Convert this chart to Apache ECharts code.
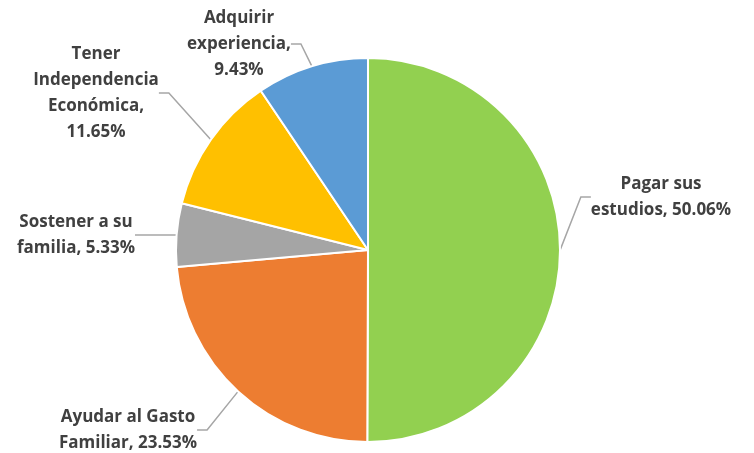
<!DOCTYPE html>
<html>
<head>
<meta charset="utf-8">
<script src="https://cdn.jsdelivr.net/npm/echarts@6/dist/echarts.min.js"></script>
<style>
  html, body { margin: 0; padding: 0; background: #fff; }
  #chart { width: 754px; height: 453px; }
</style>
</head>
<body>
<div id="chart"></div>
<script>
// datos del gráfico
const categories = [
  'Pagar sus\nestudios',
  'Ayudar al Gasto\nFamiliar',
  'Sostener a su\nfamilia',
  'Tener\nIndependencia\nEconómica',
  'Adquirir\nexperiencia'
];
const values = [50.06, 23.53, 5.33, 11.65, 9.43];
const labelTexts = [
  'Pagar sus\nestudios, 50.06%',
  'Ayudar al Gasto\nFamiliar, 23.53%',
  'Sostener a su\nfamilia, 5.33%',
  'Tener\nIndependencia\nEconómica,\n11.65%',
  'Adquirir\nexperiencia,\n9.43%'
];
const colors = ['#92D050', '#ED7D31', '#A5A5A5', '#FFC000', '#5B9BD5'];

// centre des étiquettes (px)
const labelPos = [
  [661, 197],
  [128, 430],
  [76, 235],
  [96, 93],
  [239, 44]
];

const chart = echarts.init(document.getElementById('chart'));

chart.setOption({
  animation: false,
  series: [
    {
      type: 'pie',
      center: [368, 250],
      radius: 192,
      startAngle: 90,
      clockwise: true,
      data: categories.map((name, i) => ({
        name: name,
        value: values[i],
        itemStyle: { color: colors[i] }
      })),
      itemStyle: {
        borderColor: '#fff',
        borderWidth: 2
      },
      label: {
        show: true,
        formatter: (p) => labelTexts[p.dataIndex],
        fontFamily: 'Open Sans',
        fontWeight: 'bold',
        fontSize: 17,
        lineHeight: 26,
        color: '#404040',
        align: 'center'
      },
      labelLine: {
        show: true,
        length: 12,
        length2: 10,
        lineStyle: { color: '#A6A6A6', width: 1.5 }
      },
      labelLayout: (params) => ({
        x: labelPos[params.dataIndex][0],
        y: labelPos[params.dataIndex][1],
        align: 'center',
        verticalAlign: 'middle'
      })
    }
  ]
});
</script>
</body>
</html>
